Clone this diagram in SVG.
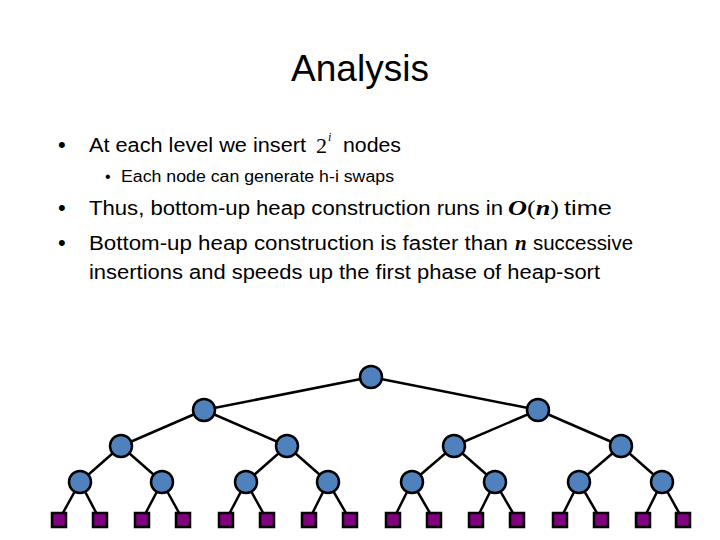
<svg xmlns="http://www.w3.org/2000/svg" width="720" height="540" viewBox="0 0 720 540">
<style>
.t{font-family:"Liberation Sans",Arial,sans-serif;fill:#000}
.m{font-family:"Liberation Serif","Times New Roman",serif;fill:#000}
.e line{stroke:#000;stroke-width:2.5}
.c{fill:#4f81bd;stroke:#000;stroke-width:2.5}
.s{fill:#800080;stroke:#000;stroke-width:2.5}
</style>
<rect width="720" height="540" fill="#fff"/>
<text class="t" x="360" y="81" font-size="37" text-anchor="middle">Analysis</text>
<g id="bullets">
<text class="t" x="58" y="152" font-size="22">•</text>
<text class="t" x="89" y="152" font-size="20" textLength="217" lengthAdjust="spacingAndGlyphs">At each level we insert</text>
<text class="m" x="316" y="153" font-size="22">2</text>
<text class="m" x="328" y="141" font-size="12" font-style="italic">i</text>
<text class="t" x="343" y="152" font-size="20" textLength="58" lengthAdjust="spacingAndGlyphs">nodes</text>
<text class="t" x="105" y="182" font-size="16">•</text>
<text class="t" x="121" y="182" font-size="16" textLength="273" lengthAdjust="spacingAndGlyphs">Each node can generate h-i swaps</text>
<text class="t" x="58" y="215" font-size="22">•</text>
<text class="t" x="89" y="215" font-size="20" textLength="414" lengthAdjust="spacingAndGlyphs">Thus, bottom-up heap construction runs in</text>
<text class="m" x="508" y="215" font-size="21" textLength="51" lengthAdjust="spacingAndGlyphs"><tspan font-style="italic" font-weight="bold">O</tspan>(<tspan font-style="italic" font-weight="bold">n</tspan>)</text>
<text class="t" x="564" y="215" font-size="20" textLength="48" lengthAdjust="spacingAndGlyphs">time</text>
<text class="t" x="58" y="250" font-size="22">•</text>
<text class="t" x="89" y="250" font-size="20" textLength="419" lengthAdjust="spacingAndGlyphs">Bottom-up heap construction is faster than</text>
<text class="m" x="515" y="250" font-size="21" font-style="italic" font-weight="bold">n</text>
<text class="t" x="533" y="250" font-size="20" textLength="100" lengthAdjust="spacingAndGlyphs">successive</text>
<text class="t" x="89" y="279" font-size="20" textLength="511" lengthAdjust="spacingAndGlyphs">insertions and speeds up the first phase of heap-sort</text>
</g>
<g id="connectors" class="e">
<line x1="371" y1="377" x2="204" y2="410"/><line x1="371" y1="377" x2="538" y2="410"/>
<line x1="204" y1="410" x2="121" y2="446"/><line x1="204" y1="410" x2="287" y2="446"/>
<line x1="538" y1="410" x2="454" y2="446"/><line x1="538" y1="410" x2="621" y2="446"/>
<line x1="121" y1="446" x2="80" y2="482"/><line x1="121" y1="446" x2="162" y2="482"/>
<line x1="287" y1="446" x2="246" y2="482"/><line x1="287" y1="446" x2="328" y2="482"/>
<line x1="454" y1="446" x2="412" y2="482"/><line x1="454" y1="446" x2="495" y2="482"/>
<line x1="621" y1="446" x2="579" y2="482"/><line x1="621" y1="446" x2="662" y2="482"/>
<line x1="80" y1="482" x2="59" y2="520"/><line x1="80" y1="482" x2="100" y2="520"/>
<line x1="162" y1="482" x2="142" y2="520"/><line x1="162" y1="482" x2="183" y2="520"/>
<line x1="246" y1="482" x2="226" y2="520"/><line x1="246" y1="482" x2="267" y2="520"/>
<line x1="328" y1="482" x2="309" y2="520"/><line x1="328" y1="482" x2="350" y2="520"/>
<line x1="412" y1="482" x2="393" y2="520"/><line x1="412" y1="482" x2="434" y2="520"/>
<line x1="495" y1="482" x2="476" y2="520"/><line x1="495" y1="482" x2="517" y2="520"/>
<line x1="579" y1="482" x2="560" y2="520"/><line x1="579" y1="482" x2="601" y2="520"/>
<line x1="662" y1="482" x2="643" y2="520"/><line x1="662" y1="482" x2="683" y2="520"/>
</g>
<g id="n0"><circle class="c" cx="371" cy="377" r="11"/></g>
<g id="n1"><circle class="c" cx="204" cy="410" r="11"/></g>
<g id="n2"><circle class="c" cx="538" cy="410" r="11"/></g>
<g id="n3"><circle class="c" cx="121" cy="446" r="11"/></g>
<g id="n4"><circle class="c" cx="287" cy="446" r="11"/></g>
<g id="n5"><circle class="c" cx="454" cy="446" r="11"/></g>
<g id="n6"><circle class="c" cx="621" cy="446" r="11"/></g>
<g id="n7"><circle class="c" cx="80" cy="482" r="11"/></g>
<g id="n8"><circle class="c" cx="162" cy="482" r="11"/></g>
<g id="n9"><circle class="c" cx="246" cy="482" r="11"/></g>
<g id="n10"><circle class="c" cx="328" cy="482" r="11"/></g>
<g id="n11"><circle class="c" cx="412" cy="482" r="11"/></g>
<g id="n12"><circle class="c" cx="495" cy="482" r="11"/></g>
<g id="n13"><circle class="c" cx="579" cy="482" r="11"/></g>
<g id="n14"><circle class="c" cx="662" cy="482" r="11"/></g>
<g id="l1"><rect class="s" x="52" y="513" width="14" height="14"/></g>
<g id="l2"><rect class="s" x="93" y="513" width="14" height="14"/></g>
<g id="l3"><rect class="s" x="135" y="513" width="14" height="14"/></g>
<g id="l4"><rect class="s" x="176" y="513" width="14" height="14"/></g>
<g id="l5"><rect class="s" x="219" y="513" width="14" height="14"/></g>
<g id="l6"><rect class="s" x="260" y="513" width="14" height="14"/></g>
<g id="l7"><rect class="s" x="302" y="513" width="14" height="14"/></g>
<g id="l8"><rect class="s" x="343" y="513" width="14" height="14"/></g>
<g id="l9"><rect class="s" x="386" y="513" width="14" height="14"/></g>
<g id="l10"><rect class="s" x="427" y="513" width="14" height="14"/></g>
<g id="l11"><rect class="s" x="469" y="513" width="14" height="14"/></g>
<g id="l12"><rect class="s" x="510" y="513" width="14" height="14"/></g>
<g id="l13"><rect class="s" x="553" y="513" width="14" height="14"/></g>
<g id="l14"><rect class="s" x="594" y="513" width="14" height="14"/></g>
<g id="l15"><rect class="s" x="636" y="513" width="14" height="14"/></g>
<g id="l16"><rect class="s" x="676" y="513" width="14" height="14"/></g>
</svg>
